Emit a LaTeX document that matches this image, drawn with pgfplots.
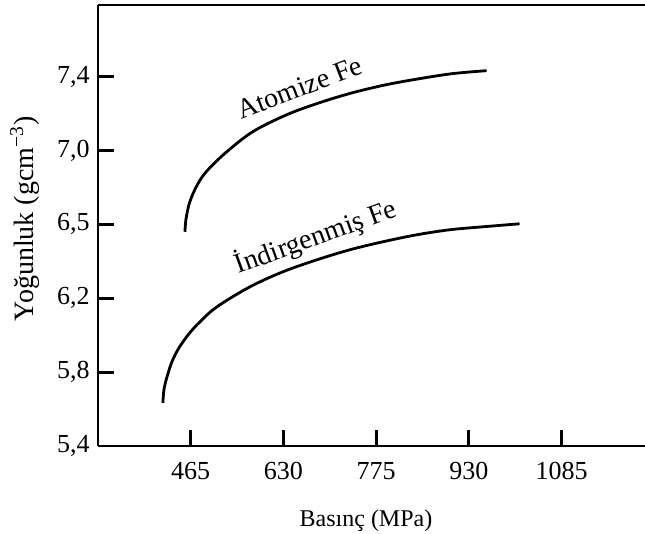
\documentclass[border=0pt,12pt]{standalone}
\usepackage{fontspec}
\setmainfont{Liberation Serif}
\usepackage{pgfplots}
\pgfplotsset{compat=1.18}

% x: tick index (1 = 465 MPa ... 5 = 1085 MPa), y: tick index (0 = 5,4 ... 5 = 7,4)
\begin{document}
\begin{tikzpicture}
\useasboundingbox (-49pt,-44pt) rectangle (273.5pt,223pt);
\begin{axis}[
  scale only axis, width=273.5pt, height=220.5pt,
  xmin=0, xmax=5.9, ymin=0, ymax=5.97,
  axis x line=box, axis y line=left,
  axis line style={-, line width=1.4pt},
  tick align=inside, tick pos=left,
  major tick length=8pt,
  every tick/.style={black, line width=1.4pt},
  tick label style={font=\fontsize{13}{15}\selectfont},
  xtick={1,...,5}, xticklabels={465,630,775,930,1085},
  ytick={0,...,5}, yticklabels={{5,4},{5,8},{6,2},{6,5},{7,0},{7,4}},
  xticklabel shift=4pt,
  xlabel={Basınç (MPa)}, ylabel={Yoğunluk (gcm\textsuperscript{−3})},
  every axis x label/.style={at={(rel axis cs:0.49,-0.17)}, anchor=center},
  every axis y label/.style={at={(rel axis cs:-0.1335,0.515)}, anchor=center,
    rotate=90, font=\fontsize{14}{17}\selectfont},
  clip=false,
]
% Atomize Fe
\addplot[black, line width=1.4pt, smooth, tension=0.55] coordinates {
  (0.938,2.900) (0.948,3.062) (0.981,3.266) (1.034,3.442) (1.110,3.618)
  (1.207,3.767) (1.390,3.984) (1.670,4.255) (2.037,4.485) (2.392,4.648)
  (2.748,4.783) (3.114,4.892) (3.470,4.973) (3.825,5.041) (4.192,5.081)
};
% Indirgenmis Fe
\addplot[black, line width=1.4pt, smooth, tension=0.55] coordinates {
  (0.700,0.583) (0.711,0.759) (0.744,0.935) (0.797,1.138) (0.873,1.328)
  (0.981,1.518) (1.099,1.680) (1.282,1.883) (1.638,2.154) (1.994,2.358)
  (2.360,2.520) (2.716,2.656) (3.071,2.764) (3.438,2.859) (3.793,2.927)
  (4.149,2.967) (4.547,3.008)
};
\node[rotate=21, font=\fontsize{14}{17}\selectfont] at (axis cs:2.177,4.85) {Atomize Fe};
\node[rotate=20, font=\fontsize{14}{17}\selectfont] at (axis cs:2.349,2.83) {İndirgenmiş Fe};
\end{axis}
\end{tikzpicture}
\end{document}
